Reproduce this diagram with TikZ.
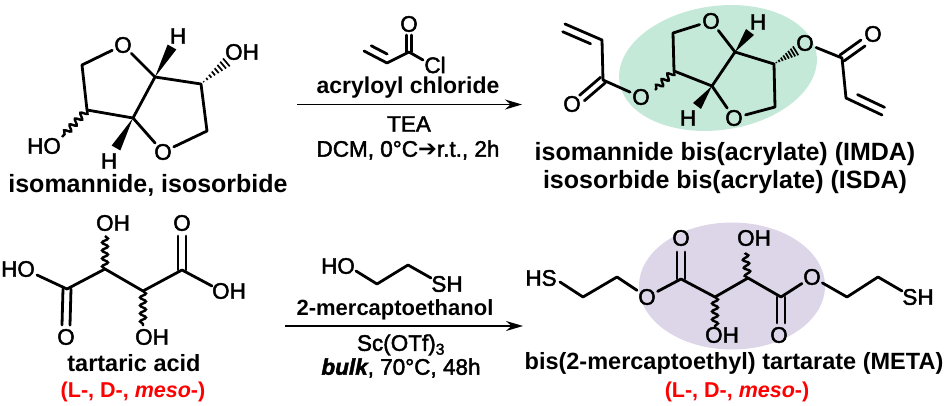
\documentclass[tikz,border=0pt]{standalone}
\usepackage{fontspec}
\setmainfont{Liberation Sans}
\newfontfamily\medfont[FakeBold=2]{Liberation Sans}
\newfontfamily\symfont{DejaVu Sans}
\usetikzlibrary{arrows.meta,calc,decorations.pathmorphing,shapes.geometric}
\definecolor{greenblob}{HTML}{C4E9D8}
\definecolor{purpleblob}{HTML}{DDD5E8}
% one line of a double bond, set off sideways from the axis
\newcommand{\bondline}[4][]{\draw[bond,#1] ($(#2)!#4!90:(#3)$) -- ($(#3)!#4!-90:(#2)$);}
\newcommand{\wedgebond}[2]{\fill (#1) -- ($(#2)!5pt!90:(#1)$) -- ($(#2)!5pt!-90:(#1)$) -- cycle;}
\newcommand{\hashbond}[2]{\foreach \f in {0.1,0.22,0.34,0.46,0.58,0.7,0.82,0.94}
    \draw[line width=1.7pt] ($(#1)!\f!(#2)!\f*5.5pt!90:(#2)$) -- ($(#1)!\f!(#2)!\f*5.5pt!-90:(#2)$);}
\begin{document}
\begin{tikzpicture}[
    x=1pt, y=-1pt,
    bond/.style={line width=2.8pt, line cap=round, line join=round},
    wavy/.style={line width=2.4pt, decorate, decoration={snake, amplitude=3pt, segment length=8pt}},
    atom/.style={font=\fontsize{22.5}{24}\medfont, inner sep=0pt},
    ringO/.style={atom, circle},
    chemname/.style={font=\fontsize{25}{27}\bfseries, inner sep=0pt},
    smallname/.style={font=\fontsize{23.5}{25}\bfseries, inner sep=0pt},
    reagent/.style={font=\fontsize{23}{25}\bfseries, inner sep=0pt},
    cond/.style={font=\fontsize{22.5}{24}\medfont, inner sep=0pt},
    isomer/.style={font=\fontsize{21.5}{24}\bfseries, text=red, inner sep=0pt},
    arrow/.style={-{Stealth[length=17pt,width=10pt]}, line width=1.8pt}
]
    \useasboundingbox (0,0) rectangle (945,406);

    % Highlights
    \node[ellipse, fill=greenblob, minimum width=199pt, minimum height=124pt, rotate=8, inner sep=0pt] (greenOval) at (718,68) {};
    \node[ellipse, fill=purpleblob, minimum width=186pt, minimum height=127pt, inner sep=0pt] (purpleOval) at (732,286) {};

    % Isomannide
    \node[ringO] (isoOa) at (123,45) {O};
    \node[ringO] (isoOb) at (163,152) {O};
    \node[atom] (isoHa) at (178,36) {H};
    \node[atom] (isoHb) at (109,161) {H};
    \node[atom] (isoOH) at (242,52) {OH};
    \node[atom] (isoHO) at (44,146) {HO};
    \coordinate (isoC1) at (82,65);
    \coordinate (isoC2) at (87,110);
    \coordinate (isoC3) at (133,118);
    \coordinate (isoC4) at (155,77);
    \coordinate (isoC5) at (201,84);
    \coordinate (isoC6) at (207,131);
    \coordinate (isoEa) at (172,47);
    \coordinate (isoEb) at (116,148);
    \coordinate (isoEc) at (228,61);
    \coordinate (isoEd) at (62,137);
    \draw[bond] (isoOa) -- (isoC1) -- (isoC2) -- (isoC3) -- (isoC4) -- (isoC5) -- (isoC6) -- (isoOb) -- (isoC3);
    \draw[bond] (isoC4) -- (isoOa);
    \wedgebond{isoC4}{isoEa}
    \wedgebond{isoC3}{isoEb}
    \hashbond{isoC5}{isoEc}
    \draw[wavy] (isoC2) -- (isoEd);
    \node[chemname] (isoName) at (148,185) {isomannide, isosorbide};

    % Upper reaction
    \coordinate (arrUa) at (297,104.5);
    \coordinate (arrUb) at (522,104.5);
    \draw[arrow] (arrUa) -- (arrUb);
    \node[atom] (aclO) at (409,24) {O};
    \node[atom] (aclCl) at (435,65) {Cl};
    \coordinate (aclC) at (409,52);
    \coordinate (aclCa) at (387,63);
    \coordinate (aclCb) at (364,51);
    \coordinate (aclEa) at (409,35);
    \coordinate (aclEb) at (423,60);
    \draw[bond] (aclCb) -- (aclCa) -- (aclC) -- (aclEb);
    \bondline{aclC}{aclEa}{2.4pt}
    \bondline{aclC}{aclEa}{-2.4pt}
    \bondline[shorten >=4pt, shorten <=4pt]{aclCa}{aclCb}{-8pt}
    \node[reagent] (aclName) at (408,88) {acryloyl chloride};
    \node[cond] (teaText) at (409,124) {TEA};
    \node[cond] (dcmText) at (408,150) {DCM, 0°C{\symfont\bfseries ➔}r.t., 2h};

    % Isomannide bis(acrylate)
    \node[ringO] (imdaOa) at (711,21) {O};
    \node[ringO] (imdaOb) at (734,118) {O};
    \node[ringO] (imdaOc) at (805,43) {O};
    \node[ringO] (imdaOd) at (641,97) {O};
    \node[ringO] (imdaOe) at (873,34) {O};
    \node[ringO] (imdaOf) at (572,104) {O};
    \node[atom] (imdaHa) at (758,22) {H};
    \node[atom] (imdaHb) at (688,118) {H};
    \coordinate (imdaC1) at (673,33);
    \coordinate (imdaC2) at (674,71);
    \coordinate (imdaC3) at (712,86);
    \coordinate (imdaC4) at (735,52);
    \coordinate (imdaC5) at (774,64);
    \coordinate (imdaC6) at (775,107);
    \coordinate (imdaC7) at (842,58);
    \coordinate (imdaC8) at (846,98);
    \coordinate (imdaC9) at (882,115);
    \coordinate (imdaC10) at (603,80);
    \coordinate (imdaC11) at (602,40);
    \coordinate (imdaC12) at (565,24);
    \coordinate (imdaEa) at (750,32);
    \coordinate (imdaEb) at (697,106);
    \coordinate (imdaEc) at (797,50);
    \coordinate (imdaEd) at (655,90);
    \coordinate (imdaEe) at (863,43);
    \coordinate (imdaEf) at (582,98);
    \draw[bond] (imdaOa) -- (imdaC1) -- (imdaC2) -- (imdaC3) -- (imdaC4) -- (imdaC5) -- (imdaC6) -- (imdaOb) -- (imdaC3);
    \draw[bond] (imdaC4) -- (imdaOa);
    \draw[bond] (imdaOc) -- (imdaC7) -- (imdaC8) -- (imdaC9);
    \draw[bond] (imdaOd) -- (imdaC10) -- (imdaC11) -- (imdaC12);
    \bondline{imdaC7}{imdaEe}{3.6pt}
    \bondline{imdaC7}{imdaEe}{-3.6pt}
    \bondline{imdaC10}{imdaEf}{3.6pt}
    \bondline{imdaC10}{imdaEf}{-3.6pt}
    \bondline[shorten >=1pt, shorten <=9pt]{imdaC8}{imdaC9}{8pt}
    \bondline[shorten >=1pt, shorten <=9pt]{imdaC11}{imdaC12}{8pt}
    \wedgebond{imdaC4}{imdaEa}
    \wedgebond{imdaC3}{imdaEb}
    \hashbond{imdaC5}{imdaEc}
    \draw[wavy] (imdaC2) -- (imdaEd);
    \node[chemname] (imdaName) at (725,154) {isomannide bis(acrylate) (IMDA)};
    \node[chemname] (isdaName) at (725,182) {isosorbide bis(acrylate) (ISDA)};

    % Tartaric acid
    \node[atom] (tarOHa) at (113,223) {OH};
    \node[atom] (tarOa) at (182,223) {O};
    \node[atom] (tarHO) at (18,269) {HO};
    \node[atom] (tarOHb) at (229,291) {OH};
    \node[atom] (tarOb) at (66,337) {O};
    \node[atom] (tarOHc) at (152,337) {OH};
    \coordinate (tarC1) at (67,289);
    \coordinate (tarC2) at (105,269);
    \coordinate (tarC3) at (143,291);
    \coordinate (tarC4) at (182,270);
    \coordinate (tarEa) at (37,275);
    \coordinate (tarEb) at (212,286);
    \coordinate (tarEc) at (66,325);
    \coordinate (tarEd) at (182,236);
    \coordinate (tarEe) at (105,236);
    \coordinate (tarEf) at (143,326);
    \draw[bond] (tarEa) -- (tarC1) -- (tarC2) -- (tarC3) -- (tarC4) -- (tarEb);
    \bondline{tarC1}{tarEc}{4pt}
    \bondline{tarC1}{tarEc}{-4pt}
    \bondline{tarC4}{tarEd}{4pt}
    \bondline{tarC4}{tarEd}{-4pt}
    \draw[wavy] (tarC2) -- (tarEe);
    \draw[wavy] (tarC3) -- (tarEf);
    \node[smallname] (tarName) at (134,363) {tartaric acid};
    \node[isomer] (tarForms) at (133,392) {(L-, D-, \textit{meso}-)};

    % Lower reaction
    \coordinate (arrLa) at (285,326);
    \coordinate (arrLb) at (523,326);
    \draw[arrow] (arrLa) -- (arrLb);
    \node[atom] (merHO) at (338,266) {HO};
    \node[atom] (merSH) at (447,284) {SH};
    \coordinate (merEa) at (356,271);
    \coordinate (merC1) at (377,284);
    \coordinate (merC2) at (408,265);
    \coordinate (merEb) at (431,278);
    \draw[bond] (merEa) -- (merC1) -- (merC2) -- (merEb);
    \node[reagent, font=\fontsize{22}{24}\bfseries] (merName) at (395,310) {2-mercaptoethanol};
    \node[cond] (scText) at (401,345) {Sc(OTf)\textsubscript{3}};
    \node[cond] (bulkText) at (401,368) {{\bfseries\itshape bulk}, 70°C, 48h};

    % Thiol ester
    \node[atom] (metaHSa) at (541,278) {HS};
    \node[atom] (metaSHb) at (918,297) {SH};
    \node[ringO] (metaOa) at (647,297) {O};
    \node[ringO] (metaOb) at (812,277) {O};
    \node[atom] (metaOc) at (681,238) {O};
    \node[atom] (metaOd) at (779,335) {O};
    \node[atom] (metaOHa) at (754,238) {OH};
    \node[atom] (metaOHb) at (722,335) {OH};
    \coordinate (metaEa) at (560,282);
    \coordinate (metaC1) at (583,297);
    \coordinate (metaC2) at (617,277);
    \coordinate (metaC3) at (681,279);
    \coordinate (metaC4) at (715,297);
    \coordinate (metaC5) at (748,278);
    \coordinate (metaC6) at (781,297);
    \coordinate (metaC7) at (847,297);
    \coordinate (metaC8) at (878,277);
    \coordinate (metaEb) at (902,291);
    \coordinate (metaEc) at (681,252);
    \coordinate (metaEd) at (781,323);
    \coordinate (metaEe) at (745,253);
    \coordinate (metaEf) at (715,327);
    \draw[bond] (metaEa) -- (metaC1) -- (metaC2) -- (metaOa) -- (metaC3) -- (metaC4) -- (metaC5) -- (metaC6) -- (metaOb) -- (metaC7) -- (metaC8) -- (metaEb);
    \bondline{metaC3}{metaEc}{4pt}
    \bondline{metaC3}{metaEc}{-4pt}
    \bondline{metaC6}{metaEd}{4pt}
    \bondline{metaC6}{metaEd}{-4pt}
    \draw[wavy] (metaC5) -- (metaEe);
    \draw[wavy] (metaC4) -- (metaEf);
    \node[smallname] (metaName) at (734,363) {bis(2-mercaptoethyl) tartarate (META)};
    \node[isomer] (metaForms) at (737,392) {(L-, D-, \textit{meso}-)};
\end{tikzpicture}
\end{document}
